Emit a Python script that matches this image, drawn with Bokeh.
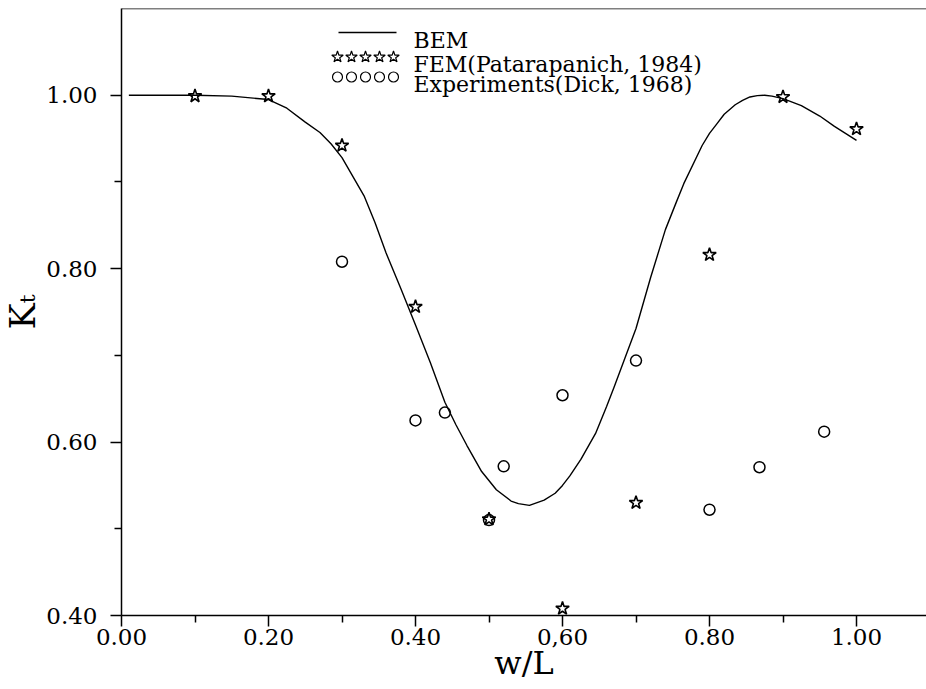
from bokeh.plotting import figure
from bokeh.models import FixedTicker, Span, Range1d, ColumnDataSource
from bokeh.core.properties import value
from bokeh.embed import file_html
from bokeh.resources import INLINE

# ---- data ----
bem_x = [0.01, 0.05, 0.10, 0.15, 0.20, 0.225, 0.25, 0.27, 0.285, 0.30, 0.33,
         0.345, 0.36, 0.38, 0.40, 0.42, 0.44, 0.455, 0.47, 0.49, 0.51, 0.53,
         0.54, 0.555, 0.575, 0.59, 0.60, 0.61, 0.625, 0.645, 0.66, 0.67, 0.685,
         0.70, 0.72, 0.74, 0.755, 0.765, 0.79, 0.80, 0.81, 0.82, 0.835, 0.845,
         0.855, 0.865, 0.875, 0.885, 0.90, 0.925, 0.95, 0.97, 0.985, 1.00]
bem_y = [1.000, 1.000, 1.000, 0.999, 0.995, 0.985, 0.969, 0.957, 0.944, 0.928,
         0.884, 0.853, 0.818, 0.777, 0.735, 0.692, 0.646, 0.620, 0.596, 0.566,
         0.545, 0.532, 0.529, 0.527, 0.533, 0.541, 0.550, 0.561, 0.580, 0.610,
         0.641, 0.663, 0.697, 0.731, 0.790, 0.845, 0.877, 0.898, 0.942, 0.956,
         0.967, 0.978, 0.989, 0.994, 0.998, 0.9995, 1.000, 0.999, 0.996, 0.988,
         0.976, 0.964, 0.956, 0.948]

fem_x = [0.1, 0.2, 0.3, 0.4, 0.5, 0.6, 0.7, 0.8, 0.9, 1.0]
fem_y = [0.999, 0.999, 0.942, 0.756, 0.511, 0.408, 0.530, 0.816, 0.998, 0.961]

exp_x = [0.30, 0.40, 0.44, 0.52, 0.50, 0.60, 0.70, 0.80, 0.868, 0.956]
exp_y = [0.808, 0.625, 0.634, 0.572, 0.510, 0.654, 0.694, 0.522, 0.571, 0.612]

x_ticks = [0.0, 0.2, 0.4, 0.6, 0.8, 1.0]
x_tick_labels = ["0.00", "0.20", "0.40", "0,60", "0.80", "1.00"]
x_minor = [0.1, 0.3, 0.5, 0.7, 0.9]
y_ticks = [0.4, 0.6, 0.8, 1.0]
y_tick_labels = ["0.40", "0.60", "0.80", "1.00"]
y_minor = [0.5, 0.7, 0.9]

legend_labels = ["BEM", "FEM(Patarapanich, 1984)", "Experiments(Dick, 1968)"]
x_title = "w/L"
y_title = "K\u209c"

FONT = "DejaVu Serif"

# ---- layout helpers (pixel positions in the picture -> data coords) ----
X0_PX, Y0_PX, YB_PX = 121, 8, 615
SX = 735.0
SY = (YB_PX - Y0_PX) / 0.7
W, H = 926, 689

def dx(px):
    return (px - X0_PX) / SX

def dy(py):
    return 1.1 - (py - Y0_PX) / SY

p = figure(width=W, height=H, output_backend="svg", toolbar_location=None,
           x_range=Range1d(0.0, (W - X0_PX) / SX), y_range=Range1d(0.4, 1.1),
           min_border_left=X0_PX, min_border_right=0, min_border_top=Y0_PX,
           min_border_bottom=H - YB_PX)
p.outline_line_color = None
p.background_fill_color = "white"
p.border_fill_color = "white"
p.xgrid.grid_line_color = None
p.ygrid.grid_line_color = None

for ax, ticks, minors, labels in ((p.xaxis[0], x_ticks, x_minor, x_tick_labels),
                                  (p.yaxis[0], y_ticks, y_minor, y_tick_labels)):
    ax.ticker = FixedTicker(ticks=ticks, minor_ticks=minors)
    ax.major_label_overrides = {t: l for t, l in zip(ticks, labels)}
    ax.axis_line_color = "black"
    ax.axis_line_width = 1.5
    ax.major_tick_line_color = "black"
    ax.minor_tick_line_color = "black"
    ax.major_tick_line_width = 1.5
    ax.minor_tick_line_width = 1.5
    ax.major_tick_in = 0
    ax.major_tick_out = 11
    ax.minor_tick_in = 0
    ax.minor_tick_out = 7
    ax.major_label_text_font = FONT
    ax.major_label_text_font_size = "23px"
    ax.major_label_text_color = "black"
    ax.axis_label_text_font = FONT
    ax.axis_label_text_font_style = "normal"
    ax.axis_label_text_color = "black"

p.xaxis[0].major_label_standoff = 2
p.yaxis[0].major_label_standoff = 13
p.xaxis[0].axis_label = x_title
p.xaxis[0].axis_label_text_font_size = "32px"
p.xaxis[0].axis_label_standoff = -4
p.yaxis[0].axis_label = y_title
p.yaxis[0].axis_label_text_font_size = "35px"
p.yaxis[0].axis_label_standoff = 0

p.add_layout(Span(location=1.1, dimension="width", line_color="black", line_width=1.5))

# ---- data marks ----
p.line(bem_x, bem_y, line_color="black", line_width=1.4)
p.scatter(exp_x, exp_y, marker="circle", size=11, fill_color=None,
          line_color="black", line_width=1.5)
p.scatter(fem_x, fem_y, marker="star", size=14, fill_color=None,
          line_color="black", line_width=1.6)

# ---- legend (drawn by hand) ----
p.line([dx(338), dx(396)], [dy(32), dy(32)], line_color="black", line_width=1.4)
sym_px = [337, 351, 365, 379, 393]
p.scatter([dx(v) for v in sym_px], [dy(56.5)] * 5, marker="star", size=12,
          fill_color=None, line_color="black", line_width=1.2)
p.scatter([dx(v) for v in sym_px], [dy(76.5)] * 5, marker="circle", size=10,
          fill_color=None, line_color="black", line_width=1.2)
leg_src = ColumnDataSource(dict(x=[dx(413)] * 3, y=[dy(39.5), dy(63.5), dy(83.5)],
                                t=legend_labels))
p.text(x="x", y="y", text="t", source=leg_src, text_font=value(FONT),
       text_font_size="22px", text_baseline="alphabetic", text_align="left",
       text_color="black")

open("out.html", "w").write(file_html(p, INLINE))
